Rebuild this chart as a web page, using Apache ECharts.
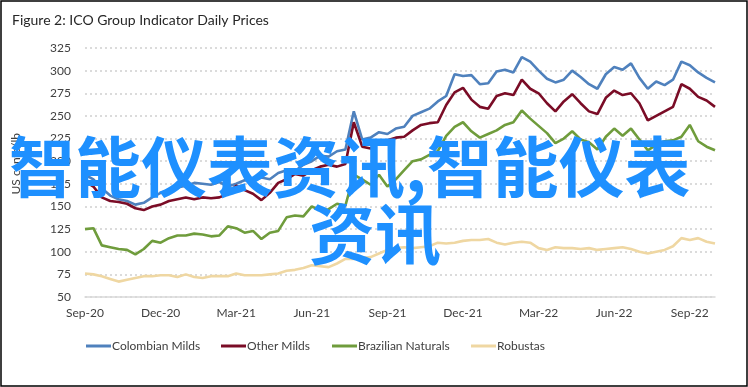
<!DOCTYPE html>
<html>
<head>
<meta charset="utf-8">
<script src="https://cdn.jsdelivr.net/npm/echarts@6/dist/echarts.min.js"></script>
<style>
html,body{margin:0;padding:0;background:#fff;}
#chart{width:748px;height:387px;}
</style>
</head>
<body>
<div id="chart"></div>
<script>
const titleText = 'Figure 2: ICO Group Indicator Daily Prices';
const yAxisTitle = 'US cents/lb';
const xTickLabels = ['Sep-20','Dec-20','Mar-21','Jun-21','Sep-21','Dec-21','Mar-22','Jun-22','Sep-22'];
const yTicks = [50,75,100,125,150,175,200,225,250,275,300,325];
const seriesNames = ['Colombian Milds','Other Milds','Brazilian Naturals','Robustas'];
const watermarkLine1 = '智能仪表资讯,智能仪表';
const watermarkLine2 = '资讯';

const dates = [
 '2020-09-01','2020-09-11','2020-09-21','2020-10-01','2020-10-11','2020-10-21',
 '2020-11-01','2020-11-11','2020-11-21','2020-12-01','2020-12-11','2020-12-21',
 '2021-01-01','2021-01-11','2021-01-21','2021-02-01','2021-02-11','2021-02-21',
 '2021-03-01','2021-03-11','2021-03-21','2021-04-01','2021-04-11','2021-04-21',
 '2021-05-01','2021-05-11','2021-05-21','2021-06-01','2021-06-11','2021-06-21',
 '2021-07-01','2021-07-11','2021-07-21','2021-08-01','2021-08-11','2021-08-21',
 '2021-09-01','2021-09-11','2021-09-21','2021-10-01','2021-10-11','2021-10-21',
 '2021-11-01','2021-11-11','2021-11-21','2021-12-01','2021-12-11','2021-12-21',
 '2022-01-01','2022-01-11','2022-01-21','2022-02-01','2022-02-11','2022-02-21',
 '2022-03-01','2022-03-11','2022-03-21','2022-04-01','2022-04-11','2022-04-21',
 '2022-05-01','2022-05-11','2022-05-21','2022-06-01','2022-06-11','2022-06-21',
 '2022-07-01','2022-07-11','2022-07-21','2022-08-01','2022-08-11','2022-08-21',
 '2022-09-01','2022-09-11','2022-09-21','2022-10-01'
];

const colombianMilds = [
 185,180,170,162,158,156,152,154,160,165,168,171,
 173,176,175,174,177,172,175,179,178,182,180,187,
 190,189,196,200,206,205,211,213,255,224,226,232,
 230,236,238,250,254,258,266,272,296,294,295,285,
 286,299,301,298,315,310,300,291,287,290,300,293,
 285,280,296,304,301,308,292,280,288,284,290,310,
 306,298,292,287
];
const otherMilds = [
 178,172,160,156,155,153,148,146,150,152,156,158,
 160,158,160,159,160,164,173,168,164,157,165,176,
 180,186,184,190,194,196,194,197,243,216,214,222,
 223,226,227,234,240,242,243,262,276,281,268,260,
 258,272,275,273,290,280,275,264,255,266,274,264,
 255,252,270,278,273,275,264,245,250,255,260,285,
 280,271,267,260
];
const brazilianNaturals = [
 125,126,107,105,103,102,97,103,112,110,115,118,
 118,120,119,117,118,128,126,121,123,114,121,123,
 138,140,139,150,146,147,153,151,185,180,174,185,
 172,180,190,200,202,207,211,228,238,243,233,226,
 230,234,240,243,256,247,239,231,220,225,233,224,
 221,213,227,236,228,236,224,212,218,222,223,227,
 240,222,216,212
];
const robustas = [
 76,75,73,70,67,69,71,73,73,74,74,72,
 75,72,71,73,73,73,76,74,74,74,75,76,
 79,80,82,85,84,83,87,92,92,93,94,98,
 102,104,105,104,105,106,110,109,110,112,113,113,
 114,110,108,110,111,110,104,102,105,104,104,103,
 104,102,103,104,105,103,100,98,100,102,106,115,
 113,115,111,109
];

const colors = ['#4f81bd','#7a0c26','#6f9c3c','#efd7a2'];
const valuesList = [colombianMilds, otherMilds, brazilianNaturals, robustas];
const legendLefts = [86, 221, 332, 471];

function monthIndex(s){
  const p = s.split('-').map(Number);
  return (p[0]-2020)*12 + (p[1]-9) + (p[2]-1)/30;
}
const xs = dates.map(monthIndex);

const font = 'Lato';
const chart = echarts.init(document.getElementById('chart'), null, {renderer:'canvas'});
const option = {
  animation:false,
  backgroundColor:'#fff',
  title:{text:titleText,left:7,top:8,textStyle:{fontFamily:font,fontSize:14,fontWeight:'normal',color:'#262626'}},
  grid:{left:85,right:33,top:48,bottom:90,containLabel:false},
  legend: seriesNames.map((n,i)=>({
    data:[n],left:legendLefts[i],top:340,itemWidth:25,itemHeight:3,icon:'rect',padding:0,
    textStyle:{fontFamily:font,fontSize:12,color:'#404040',padding:[0,0,0,-4]}
  })),
  xAxis:{
    type:'value',min:0,max:25,interval:3,
    axisLine:{show:true,lineStyle:{color:'#d9d9d9',width:1.5}},
    axisTick:{show:false},
    splitLine:{show:false},
    axisLabel:{
      showMaxLabel:false,margin:10,fontFamily:font,fontSize:12,color:'#404040',
      formatter:function(v){ const i = v/3; return Number.isInteger(i) && xTickLabels[i] ? xTickLabels[i] : ''; }
    }
  },
  yAxis:{
    type:'value',min:yTicks[0],max:yTicks[yTicks.length-1],interval:25,
    axisLine:{show:false},axisTick:{show:false},
    axisLabel:{margin:14,fontFamily:font,fontSize:12,color:'#404040'},
    splitLine:{show:true,lineStyle:{color:'#d0d0d0',type:[2,3],width:1.5}}
  },
  series: seriesNames.map((n,i)=>({
    name:n,type:'line',showSymbol:false,symbol:'none',
    lineStyle:{width:2.6,color:colors[i]},itemStyle:{color:colors[i]},
    data: valuesList[i].map((v,j)=>[xs[j],v]),z:2+i
  })),
  graphic:[
    {type:'rect',shape:{x:1,y:1,width:746,height:385},style:{fill:'none',stroke:'#000',lineWidth:1.5},z:0,silent:true},
    {type:'text',left:10,top:133,rotation:Math.PI/2,style:{text:yAxisTitle,font:'12px Lato',fill:'#404040'},z:1},
    {type:'text',x:9,y:167,style:{text:watermarkLine1,font:'bold 66px "Noto Sans CJK SC"',fill:'#1e90ff',verticalAlign:'middle',align:'left'},z:100},
    {type:'text',x:375,y:234,style:{text:watermarkLine2,font:'bold 66px "Noto Sans CJK SC"',fill:'#1e90ff',verticalAlign:'middle',align:'center'},z:100}
  ]
};
chart.setOption(option);
</script>
</body>
</html>
